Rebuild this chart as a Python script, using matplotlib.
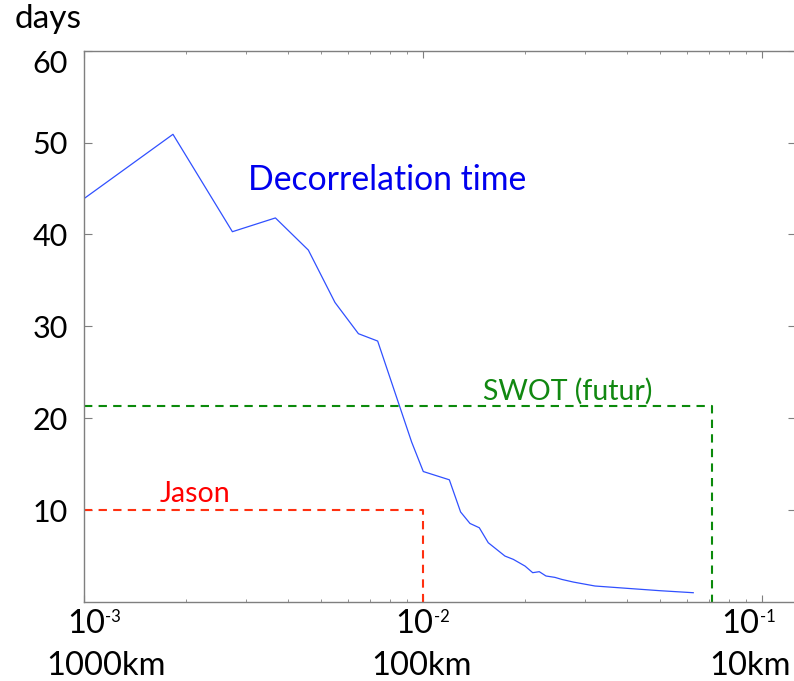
import matplotlib.pyplot as plt
import matplotlib.transforms as mtransforms

plt.rcParams['font.family'] = ['Lato', 'DejaVu Sans']

# wavenumber (cycles/km) and decorrelation time (days)
k = [0.001, 0.00183, 0.00274, 0.00367, 0.00459, 0.0055, 0.00645, 0.00735,
     0.00926, 0.01002, 0.01196, 0.01291, 0.01376, 0.01466, 0.01558, 0.01745,
     0.01847, 0.0200, 0.02107, 0.02203, 0.02306, 0.0245, 0.02566, 0.02777,
     0.03217, 0.0399, 0.05, 0.0627]
days = [43.9, 50.9, 40.3, 41.8, 38.3, 32.6, 29.2, 28.4,
        17.4, 14.2, 13.3, 9.8, 8.55, 8.08, 6.45, 5.0,
        4.64, 3.91, 3.19, 3.3, 2.83, 2.68, 2.46, 2.17,
        1.74, 1.49, 1.23, 1.01]

# altimeter limits: resolved wavenumber, repeat period
jason_k, jason_days = 0.01, 10
swot_k, swot_days = 0.0714, 21.3

yticks = [10, 20, 30, 40, 50, 60]
xticks = [1e-3, 1e-2, 1e-1]
exps = ['-3', '-2', '-1']
km_labels = ['1000km', '100km', '10km']

gray = '#7f7f7f'

fig = plt.figure(figsize=(7.94, 6.81), dpi=100)
ax = fig.add_axes([84/794, 79/681, 712/794, 551.3/681])

ax.plot(k, days, color='#3050ff', lw=0.9)
ax.plot([k[0], jason_k, jason_k], [jason_days, jason_days, 0],
        color='#ff3010', lw=1.5, dashes=(4, 3))
ax.plot([k[0], swot_k, swot_k], [swot_days, swot_days, 0],
        color='#0b8a0b', lw=1.5, dashes=(4, 3))

ax.text(0.00784, 44.86, 'Decorrelation time', color='#0000ee',
        fontsize=24.3, ha='center', va='baseline')
ax.text(0.0268, 22.03, 'SWOT (futur)', color='#118811',
        fontsize=20.5, ha='center', va='baseline')
ax.text(0.002125, 10.84, 'Jason', color='#ff0000',
        fontsize=20.5, ha='center', va='baseline')

ax.set_xscale('log')
ax.set_xlim(0.001, 0.126)
ax.set_ylim(0, 60)

for s in ax.spines.values():
    s.set_color(gray)
    s.set_linewidth(1)

ax.set_xticks(xticks)
ax.tick_params(axis='x', which='both', direction='in', top=True, bottom=True,
               labelbottom=False, color=gray)
ax.tick_params(axis='x', which='major', length=5)
ax.tick_params(axis='x', which='minor', length=2.5)

ax.set_yticks(yticks)
ax.set_yticklabels([str(v) for v in yticks])
ax.tick_params(axis='y', direction='in', left=True, right=True, length=6,
               color=gray, labelsize=22, pad=11.5)
# keep the top label inside the figure
lbl = ax.get_yticklabels()[-1]
lbl.set_transform(lbl.get_transform() +
                  mtransforms.ScaledTranslation(0, -11/100, fig.dpi_scale_trans))

# two-row x labels: power of ten and wavelength
ten_dx = [2, -8.5, -21.5]
km_dx = [22, -1, -12]
for xv, e, kml, d1, d2 in zip(xticks, exps, km_labels, ten_dx, km_dx):
    t = ax.annotate('10', xy=(xv, 0), xycoords=('data', 'axes fraction'),
                    xytext=(d1, -31), textcoords='offset pixels',
                    ha='center', va='baseline', fontsize=23.5,
                    annotation_clip=False)
    ax.annotate(e, xy=(1, 1), xycoords=t, xytext=(0.5, 0),
                textcoords='offset pixels', ha='left', va='top',
                fontsize=12, annotation_clip=False)
    ax.annotate(kml, xy=(xv, 0), xycoords=('data', 'axes fraction'),
                xytext=(d2, -73), textcoords='offset pixels',
                ha='center', va='baseline', fontsize=23.5,
                annotation_clip=False)

fig.text(15/794, 1 - 28/681, 'days', fontsize=24, ha='left', va='baseline')

fig.savefig('out.png', dpi=100)
